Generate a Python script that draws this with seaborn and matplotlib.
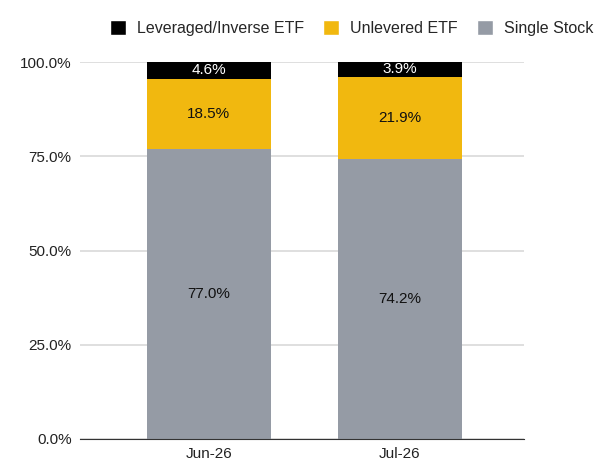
import matplotlib
matplotlib.use("Agg")
import matplotlib.pyplot as plt
import seaborn as sns
import pandas as pd
from matplotlib.patches import Patch
from matplotlib.ticker import FuncFormatter

# data (percent of total)
months = ["Jun-26", "Jul-26"]
single_stock = [77.0, 74.2]
unlevered_etf = [18.5, 21.9]
leveraged_etf = [4.6, 3.9]

series_names = ["Leveraged/Inverse ETF", "Unlevered ETF", "Single Stock"]
colors = {"Single Stock": "#959ba5", "Unlevered ETF": "#f1b80f",
          "Leveraged/Inverse ETF": "#000000"}
text_colors = {"Single Stock": "#111111", "Unlevered ETF": "#111111",
               "Leveraged/Inverse ETF": "#ffffff"}

df = pd.DataFrame({"month": months, "Single Stock": single_stock,
                   "Unlevered ETF": unlevered_etf,
                   "Leveraged/Inverse ETF": leveraged_etf})

sns.set_style("white")
plt.rcParams["font.family"] = ["Liberation Sans", "DejaVu Sans"]

fig = plt.figure(figsize=(6.03, 4.71), dpi=100)
ax = fig.add_axes([80 / 603, 32 / 471, 444 / 603, 377 / 471])

# stack bottom to top
bottom = [0.0] * len(months)
for name in ["Single Stock", "Unlevered ETF", "Leveraged/Inverse ETF"]:
    sns.barplot(data=df, x="month", y=name, bottom=bottom, color=colors[name],
                width=0.65, saturation=1, linewidth=0, ax=ax, zorder=3)
    for i, v in enumerate(df[name]):
        ax.text(i, bottom[i] + v / 2, f"{v:.1f}%", ha="center", va="center",
                fontsize=11, color=text_colors[name], zorder=4)
    bottom = [b + v for b, v in zip(bottom, df[name])]

ax.set_xlim(-0.675, 1.65)
ax.set_ylim(0, 100)
ax.set_yticks([0, 25, 50, 75, 100])
ax.yaxis.set_major_formatter(FuncFormatter(lambda v, p: f"{v:.1f}%"))
ax.grid(axis="y", color="#d9d9d9", linewidth=1.2, zorder=0)
ax.set_xlabel("")
ax.set_ylabel("")
for s in ["top", "right", "left"]:
    ax.spines[s].set_visible(False)
ax.spines["bottom"].set_color("#333333")
ax.spines["bottom"].set_zorder(5)
ax.tick_params(axis="both", length=0, labelsize=11, colors="#222222", pad=6)

handles = [Patch(facecolor=colors[n], label=n) for n in series_names]
fig.legend(handles=handles, loc="center", bbox_to_anchor=(0.583, 0.94),
           ncol=3, frameon=False, fontsize=11.5, handlelength=1.0,
           handleheight=1.0, handletextpad=0.7, columnspacing=1.2)

fig.savefig("out.png", dpi=100)
